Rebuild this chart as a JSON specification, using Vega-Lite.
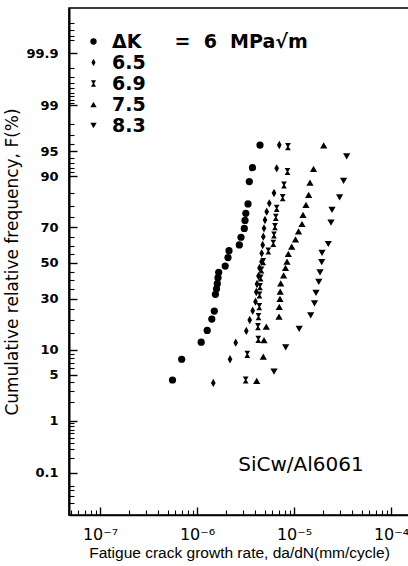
{
  "$schema": "https://vega.github.io/schema/vega-lite/v6.json",
  "autosize": {"type": "none"},
  "padding": {"left": 69, "top": 8, "right": 0, "bottom": 51},
  "width": 340,
  "height": 507,
  "background": "white",
  "config": {
    "font": "DejaVu Sans",
    "view": {"stroke": "black", "strokeWidth": 1.6},
    "axis": {"grid": false, "domainColor": "black", "tickColor": "black", "labelColor": "black", "titleColor": "black"}
  },
  "datasets": {
    "cgr": [
      {"dk": "6", "rate": 5.59e-7, "F": 4.22},
      {"dk": "6", "rate": 6.95e-7, "F": 7.78},
      {"dk": "6", "rate": 1.105e-6, "F": 12.14},
      {"dk": "6", "rate": 1.274e-6, "F": 16.0},
      {"dk": "6", "rate": 1.421e-6, "F": 20.4},
      {"dk": "6", "rate": 1.508e-6, "F": 23.9},
      {"dk": "6", "rate": 1.548e-6, "F": 32.2},
      {"dk": "6", "rate": 1.589e-6, "F": 35.2},
      {"dk": "6", "rate": 1.619e-6, "F": 38.0},
      {"dk": "6", "rate": 1.646e-6, "F": 41.4},
      {"dk": "6", "rate": 1.674e-6, "F": 44.5},
      {"dk": "6", "rate": 1.953e-6, "F": 48.2},
      {"dk": "6", "rate": 2.087e-6, "F": 53.2},
      {"dk": "6", "rate": 2.138e-6, "F": 57.2},
      {"dk": "6", "rate": 2.73e-6, "F": 60.5},
      {"dk": "6", "rate": 2.842e-6, "F": 64.8},
      {"dk": "6", "rate": 3.073e-6, "F": 69.5},
      {"dk": "6", "rate": 3.125e-6, "F": 73.5},
      {"dk": "6", "rate": 3.185e-6, "F": 76.8},
      {"dk": "6", "rate": 3.357e-6, "F": 80.8},
      {"dk": "6", "rate": 3.462e-6, "F": 88.5},
      {"dk": "6", "rate": 3.734e-6, "F": 92.0},
      {"dk": "6", "rate": 4.462e-6, "F": 95.9},
      {"dk": "6.5", "rate": 1.472e-6, "F": 3.84},
      {"dk": "6.5", "rate": 2.189e-6, "F": 7.78},
      {"dk": "6.5", "rate": 2.506e-6, "F": 11.99},
      {"dk": "6.5", "rate": 3.223e-6, "F": 15.8},
      {"dk": "6.5", "rate": 3.494e-6, "F": 20.03},
      {"dk": "6.5", "rate": 3.752e-6, "F": 24.09},
      {"dk": "6.5", "rate": 4.009e-6, "F": 28.41},
      {"dk": "6.5", "rate": 4.086e-6, "F": 33.44},
      {"dk": "6.5", "rate": 4.155e-6, "F": 37.84},
      {"dk": "6.5", "rate": 4.305e-6, "F": 42.4},
      {"dk": "6.5", "rate": 4.409e-6, "F": 47.06},
      {"dk": "6.5", "rate": 4.623e-6, "F": 50.77},
      {"dk": "6.5", "rate": 4.645e-6, "F": 55.69},
      {"dk": "6.5", "rate": 4.757e-6, "F": 60.47},
      {"dk": "6.5", "rate": 4.825e-6, "F": 65.1},
      {"dk": "6.5", "rate": 4.906e-6, "F": 69.56},
      {"dk": "6.5", "rate": 5.024e-6, "F": 73.7},
      {"dk": "6.5", "rate": 5.231e-6, "F": 77.54},
      {"dk": "6.5", "rate": 5.564e-6, "F": 81.07},
      {"dk": "6.5", "rate": 6.22e-6, "F": 84.91},
      {"dk": "6.5", "rate": 6.63e-6, "F": 91.88},
      {"dk": "6.5", "rate": 7.054e-6, "F": 95.91},
      {"dk": "6.9", "rate": 3.177e-6, "F": 4.22},
      {"dk": "6.9", "rate": 3.3e-6, "F": 8.91},
      {"dk": "6.9", "rate": 4.285e-6, "F": 13.02},
      {"dk": "6.9", "rate": 4.25e-6, "F": 17.37},
      {"dk": "6.9", "rate": 4.305e-6, "F": 21.42},
      {"dk": "6.9", "rate": 4.388e-6, "F": 25.96},
      {"dk": "6.9", "rate": 4.409e-6, "F": 31.85},
      {"dk": "6.9", "rate": 4.462e-6, "F": 36.33},
      {"dk": "6.9", "rate": 4.536e-6, "F": 41.25},
      {"dk": "6.9", "rate": 4.623e-6, "F": 45.89},
      {"dk": "6.9", "rate": 4.825e-6, "F": 50.77},
      {"dk": "6.9", "rate": 5.434e-6, "F": 57.02},
      {"dk": "6.9", "rate": 6.118e-6, "F": 61.43},
      {"dk": "6.9", "rate": 6.22e-6, "F": 66.02},
      {"dk": "6.9", "rate": 6.369e-6, "F": 70.38},
      {"dk": "6.9", "rate": 6.492e-6, "F": 74.99},
      {"dk": "6.9", "rate": 6.63e-6, "F": 79.01},
      {"dk": "6.9", "rate": 7.645e-6, "F": 83.23},
      {"dk": "6.9", "rate": 7.885e-6, "F": 87.5},
      {"dk": "6.9", "rate": 8.57e-6, "F": 91.14},
      {"dk": "6.9", "rate": 8.66e-6, "F": 95.69},
      {"dk": "7.5", "rate": 4.125e-6, "F": 4.09},
      {"dk": "7.5", "rate": 4.825e-6, "F": 8.35},
      {"dk": "7.5", "rate": 4.906e-6, "F": 12.8},
      {"dk": "7.5", "rate": 5.181e-6, "F": 17.37},
      {"dk": "7.5", "rate": 7.004e-6, "F": 21.42},
      {"dk": "7.5", "rate": 7.054e-6, "F": 25.82},
      {"dk": "7.5", "rate": 7.172e-6, "F": 29.77},
      {"dk": "7.5", "rate": 7.21e-6, "F": 33.6},
      {"dk": "7.5", "rate": 7.293e-6, "F": 38.23},
      {"dk": "7.5", "rate": 7.811e-6, "F": 42.69},
      {"dk": "7.5", "rate": 8.171e-6, "F": 47.06},
      {"dk": "7.5", "rate": 8.468e-6, "F": 50.77},
      {"dk": "7.5", "rate": 8.734e-6, "F": 55.28},
      {"dk": "7.5", "rate": 9.47e-6, "F": 59.5},
      {"dk": "7.5", "rate": 1.036e-5, "F": 63.67},
      {"dk": "7.5", "rate": 1.113e-5, "F": 67.89},
      {"dk": "7.5", "rate": 1.209e-5, "F": 71.74},
      {"dk": "7.5", "rate": 1.238e-5, "F": 76.05},
      {"dk": "7.5", "rate": 1.329e-5, "F": 80.39},
      {"dk": "7.5", "rate": 1.417e-5, "F": 84.21},
      {"dk": "7.5", "rate": 1.462e-5, "F": 88.24},
      {"dk": "7.5", "rate": 1.589e-5, "F": 91.76},
      {"dk": "7.5", "rate": 2.023e-5, "F": 95.85},
      {"dk": "8.3", "rate": 6.22e-6, "F": 5.44},
      {"dk": "8.3", "rate": 8.21e-6, "F": 10.69},
      {"dk": "8.3", "rate": 1.131e-5, "F": 16.52},
      {"dk": "8.3", "rate": 1.486e-5, "F": 21.94},
      {"dk": "8.3", "rate": 1.627e-5, "F": 27.61},
      {"dk": "8.3", "rate": 1.686e-5, "F": 32.91},
      {"dk": "8.3", "rate": 1.802e-5, "F": 38.97},
      {"dk": "8.3", "rate": 1.854e-5, "F": 44.54},
      {"dk": "8.3", "rate": 1.93e-5, "F": 50.47},
      {"dk": "8.3", "rate": 1.944e-5, "F": 55.86},
      {"dk": "8.3", "rate": 2.257e-5, "F": 61.03},
      {"dk": "8.3", "rate": 2.407e-5, "F": 72.39},
      {"dk": "8.3", "rate": 2.465e-5, "F": 78.28},
      {"dk": "8.3", "rate": 2.952e-5, "F": 83.37},
      {"dk": "8.3", "rate": 3.246e-5, "F": 88.68},
      {"dk": "8.3", "rate": 3.494e-5, "F": 94.22}
    ]
  },
  "layer": [
    {
      "data": {"name": "cgr"},
      "transform": [{"calculate": "quantileNormal(datum.F / 100)", "as": "z"}],
      "mark": {"type": "point", "filled": true, "opacity": 1, "color": "black", "strokeWidth": 0, "size": 52},
      "encoding": {
        "x": {
          "field": "rate", "type": "quantitative",
          "scale": {"type": "log", "domain": [4.791e-8, 1.533e-4], "nice": false},
          "axis": {
            "orient": "bottom",
            "values": [1e-7, 1e-6, 1e-5, 1e-4],
            "labelExpr": "datum.value < 5e-7 ? '10⁻⁷' : datum.value < 5e-6 ? '10⁻⁶' : datum.value < 5e-5 ? '10⁻⁵' : '10⁻⁴'",
            "ticks": false,
            "domainWidth": 1.6,
            "labelFont": "DejaVu Sans", "labelFontSize": 16, "labelPadding": 11,
            "title": "Fatigue crack growth rate, da/dN(mm/cycle)",
            "titleFont": "Liberation Sans", "titleFontSize": 15.5, "titleFontWeight": "normal", "titlePadding": 3
          }
        },
        "y": {
          "field": "z", "type": "quantitative",
          "scale": {"domain": [-3.717, 3.761], "nice": false, "zero": false},
          "axis": {
            "orient": "left",
            "values": [-3.0902, -2.3263, -1.6449, -1.2816, -0.5244, 0, 0.5244, 1.2816, 1.6449, 2.3263, 3.0902],
            "labelExpr": "format(cumulativeNormal(datum.value) * 100, '.3~r')",
            "ticks": false,
            "domainWidth": 2,
            "labelFont": "DejaVu Sans", "labelFontWeight": "bold", "labelFontSize": 13, "labelPadding": 11,
            "title": "Cumulative relative frequency, F(%)",
            "titleFont": "DejaVu Sans", "titleFontSize": 17, "titleFontWeight": "normal", "titlePadding": 4
          }
        },
        "shape": {
          "field": "dk", "type": "nominal",
          "scale": {
            "domain": ["6", "6.5", "6.9", "7.5", "8.3"],
            "range": ["circle", "M0,-1.15L0.65,0L0,1.15L-0.65,0Z", "M-0.8,-1L0.8,-1L0.2,0L0.8,1L-0.8,1L-0.2,0Z", "triangle-up", "triangle-down"]
          },
          "legend": {
            "orient": "none", "legendX": 15, "legendY": 24, "title": null, "padding": 0,
            "labelFont": "DejaVu Sans", "labelFontWeight": "bold", "labelFontSize": 19, "labelColor": "black",
            "labelOffset": 9, "rowPadding": 1, "symbolSize": 40, "labelLimit": 400,
            "symbolFillColor": "black", "symbolStrokeColor": "black", "symbolStrokeWidth": 0,
            "labelExpr": "datum.label == '6' ? 'ΔK\u00a0\u00a0\u00a0\u00a0\u00a0=\u00a0\u00a06\u00a0\u00a0MPa√m' : datum.label"
          }
        }
      }
    },
    {
      "data": {"values": [{"label": "SiCw/Al6061"}]},
      "mark": {"type": "text", "font": "DejaVu Sans", "fontSize": 20, "color": "black", "align": "center", "baseline": "middle"},
      "encoding": {
        "x": {
          "datum": 1.18e-5, "type": "quantitative",
          "axis": {
            "orient": "top", "offset": -507, "labels": false, "domain": false, "title": null,
            "values": [1e-7, 1e-6, 1e-5, 1e-4],
            "tickSize": 8, "tickWidth": 1.4
          }
        },
        "y": {
          "datum": -2.98, "type": "quantitative",
          "axis": {
            "orient": "right", "offset": -340, "labels": false, "domain": false, "title": null,
            "values": [-3.0902, -2.3263, -1.6449, -1.2816, -0.5244, 0, 0.5244, 1.2816, 1.6449, 2.3263, 3.0902],
            "tickSize": 8, "tickWidth": 1.4
          }
        },
        "text": {"field": "label", "type": "nominal"}
      }
    },
    {
      "data": {"values": [{"label": ""}]},
      "mark": {"type": "text", "color": "black"},
      "encoding": {
        "x": {
          "datum": 1e-5, "type": "quantitative",
          "axis": {
            "orient": "top", "offset": -507, "labels": false, "domain": false, "title": null,
            "values": [5e-8, 6e-8, 7e-8, 8e-8, 9e-8, 2e-7, 3e-7, 4e-7, 5e-7, 6e-7, 7e-7, 8e-7, 9e-7, 2e-6, 3e-6, 4e-6, 5e-6, 6e-6, 7e-6, 8e-6, 9e-6, 2e-5, 3e-5, 4e-5, 5e-5, 6e-5, 7e-5, 8e-5, 9e-5],
            "tickSize": 5, "tickWidth": 1.1
          }
        },
        "y": {
          "datum": 0, "type": "quantitative",
          "axis": {
            "orient": "right", "offset": -340, "labels": false, "domain": false, "title": null,
            "values": [-3.5401, -3.4316, -3.3528, -3.2905, -2.8782, -2.7478, -2.6521, -2.5758, -2.5121, -2.4573, -2.4089, -2.3656, -2.0537, -1.8808, -1.7507, -1.5548, -1.4758, -1.4051, -1.3408, -1.0364, -0.8416, -0.6745, -0.3853, -0.2533, -0.1257, 0.1257, 0.2533, 0.3853, 0.6745, 0.8416, 1.0364, 1.3408, 1.4051, 1.4758, 1.5548, 1.7507, 1.8808, 2.0537, 2.3656, 2.4089, 2.4573, 2.5121, 2.5758, 2.6521, 2.7478, 2.8782, 3.2905, 3.3528, 3.4316, 3.5401],
            "tickSize": 5, "tickWidth": 1.1
          }
        },
        "text": {"field": "label", "type": "nominal"}
      }
    }
  ],
  "resolve": {"axis": {"x": "independent", "y": "independent"}}
}
